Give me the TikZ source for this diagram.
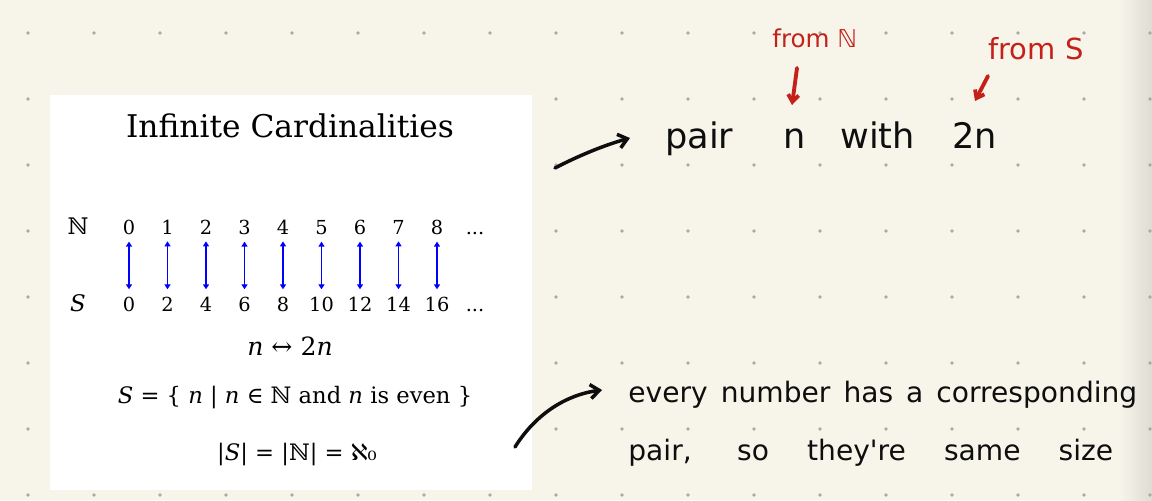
\documentclass[tikz,border=0pt]{standalone}
\usepackage{fontspec}
\setmainfont{DejaVu Serif}
\newfontfamily\mano{DejaVu Sans}
\usetikzlibrary{arrows.meta,positioning}
\definecolor{papel}{HTML}{F7F5EA}
\definecolor{punto}{HTML}{ABABA5}
\definecolor{tinta}{HTML}{0E0E0E}
\definecolor{rojo}{HTML}{C4211B}
\definecolor{azul}{HTML}{0000FF}
\tikzset{
  cifra/.style={font=\fontsize{11}{13}\selectfont,inner sep=0pt,anchor=base},
  etiq/.style={font=\fontsize{13}{15}\selectfont,inner sep=0pt,anchor=base},
  flecha/.style={draw=azul,line width=0.75pt,{Triangle[length=2.8pt,width=3.4pt]}-{Triangle[length=2.8pt,width=3.4pt]},shorten <=4pt,shorten >=4pt},
  formula/.style={font=\fontsize{12.9}{15}\selectfont,inner sep=0pt,anchor=base},
  mano/.style={font=\mano\fontsize{16}{19}\selectfont,text=tinta,inner sep=0pt,anchor=base west},
  palabra/.style={mano,font=\mano\fontsize{20}{24}\selectfont},
  manoroja/.style={font=\mano\fontsize{14}{17}\selectfont,text=rojo,inner sep=0pt,anchor=base west},
  trazo/.style={draw=tinta,line width=2pt,line cap=round,-{Straight Barb[length=5pt,width=8pt]}},
  trazorojo/.style={draw=rojo,line width=2.2pt,line cap=round,-{Straight Barb[length=4pt,width=6pt]}},
}

\begin{document}
\begin{tikzpicture}[x=0.02cm,y=-0.02cm]
  % paper
  \fill[papel] (0,0) rectangle (1152,500);
  \shade[left color=papel,right color=papel!90!black] (1120,0) rectangle (1152,500);
  \foreach \i in {0,...,17}
    \foreach \j in {0,...,7}
      \fill[punto] (28+66*\i,33+66*\j) circle (1.1pt);
  % slide
  \fill[white] (50,95) rectangle (532,490);
  \node[font=\fontsize{17.8}{21}\selectfont,inner sep=0pt,anchor=base] (titulo) at (290,137) {Infinite Cardinalities};
  \node[etiq] (etiqN) at (78,234) {ℕ};
  \node[etiq] (etiqS) at (78,311) {\textit{S}};
  \foreach \i in {0,...,8} {
    \pgfmathtruncatemacro\doble{2*\i}
    \node[cifra] (n\i) at (129+38.5*\i,234) {\i};
    \node[cifra] (s\i) at (129+38.5*\i,311) {\doble};
    \draw[flecha] (n\i) -- (s\i);
  }
  \node[cifra] (puntosN) at (475,234) {...};
  \node[cifra] (puntosS) at (475,311) {...};
  \node[formula,font=\fontsize{14.3}{17}\selectfont] (biyec) at (290,355) {\textit{n} ↔ 2\textit{n}};
  \node[formula] (conjunto) at (295,403) {\textit{S} = \{ \textit{n} | \textit{n} ∈ ℕ and \textit{n} is even \}};
  \node[formula] (cardinal) at (297,460) {|\textit{S}| = |ℕ| = {\mano ℵ}₀};
  % notes
  \node[palabra] (pair) at (665,148) {pair};
  \node[palabra] (enea) at (783,148) {n};
  \node[palabra] (with) at (840,148) {with};
  \node[palabra] (dosn) at (952,148) {2n};
  \node[manoroja] (desdeN) at (772,48) {from ℕ};
  \node[manoroja,font=\mano\fontsize{16.5}{19}\selectfont] (desdeS) at (988,60) {from S};
  \coordinate (r1a) at (797,68);  \coordinate (r1b) at (792,105);
  \coordinate (r2a) at (988,76);  \coordinate (r2b) at (975,101);
  \draw[trazorojo] (r1a) -- (r1b);
  \draw[trazorojo] (r2a) -- (r2b);
  \coordinate (cola1) at (555,168); \coordinate (punta1) at (630,138);
  \draw[trazo] (cola1) .. controls (580,155) and (605,145) .. (punta1);
  \node[mano] (linea1) at (628,402) {\makebox[10.18cm][s]{every number has a corresponding}};
  \node[mano] (linea2) at (628,460) {\makebox[9.7cm][s]{pair, so they're same size}};
  \coordinate (cola2) at (515,447); \coordinate (punta2) at (602,390);
  \draw[trazo] (cola2) .. controls (535,415) and (565,395) .. (punta2);
\end{tikzpicture}
\end{document}
